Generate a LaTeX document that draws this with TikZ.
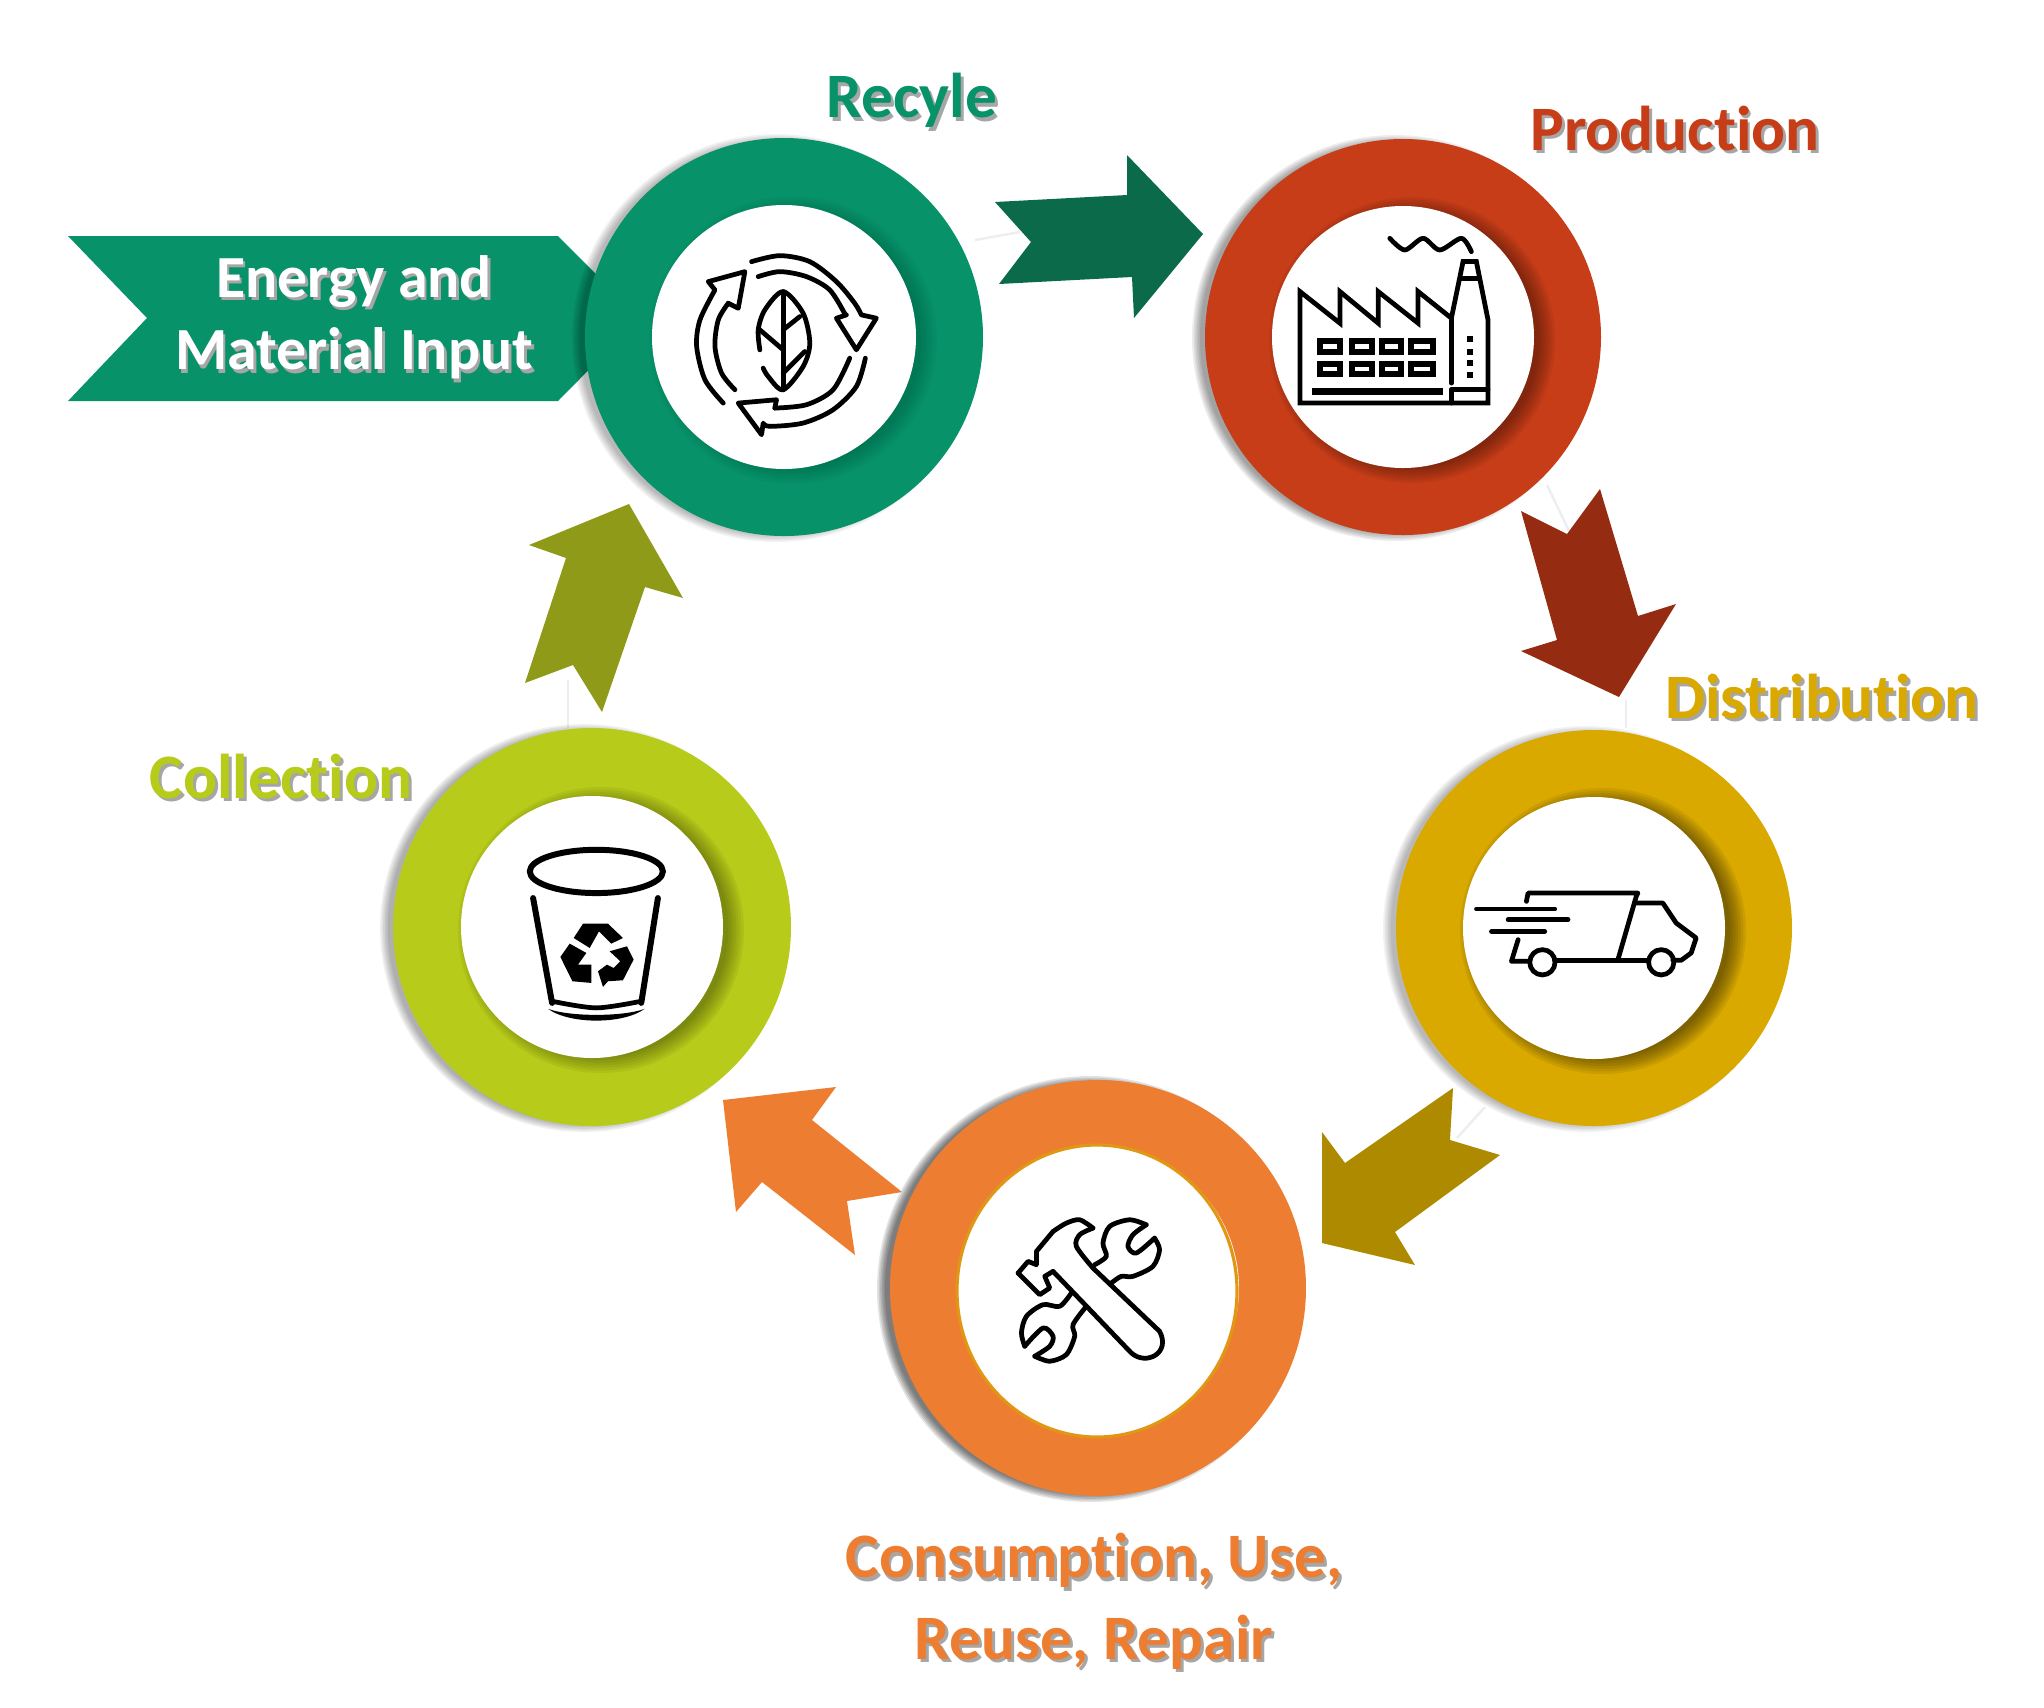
\documentclass[tikz,border=0pt]{standalone}
\usepackage{fontspec}
\setmainfont[Ligatures=NoCommon]{Carlito}
\definecolor{cgreen}{HTML}{07926A}
\definecolor{cgreend}{HTML}{0B6A4A}
\definecolor{cred}{HTML}{C63D18}
\definecolor{credd}{HTML}{952C12}
\definecolor{cyel}{HTML}{D9A900}
\definecolor{cyeld}{HTML}{AE8A00}
\definecolor{corg}{HTML}{ED7D31}
\definecolor{clime}{HTML}{B7CB1A}
\definecolor{colive}{HTML}{8F9B18}
\definecolor{cfaint}{HTML}{ECEEF2}
\newcommand{\shtext}[2]{\makebox[0pt][l]{\hspace{.8pt}\raisebox{-1pt}{\textcolor{black!35}{#2}}}\textcolor{#1}{#2}}
% name, x, y, outer radius, inner radius, colour, inner-shadow strength, outer-shadow strength
\newcommand{\myring}[8]{%
  \foreach \k in {0,...,5}{\fill[black,opacity=#8] (#2-8,#3+1) circle[radius=#4+5-1.6*\k];}
  \node[ringdisc,fill=#6,minimum size={2*#4*0.01cm}] (#1) at (#2,#3) {};
  \foreach \k in {0,...,6}{\fill[black,opacity=#7] (#2+9,#3+3) circle[radius=#5+12-2.6*\k];}
  \node[ringdisc,fill=white,minimum size={2*#5*0.01cm}] (#1-in) at (#2,#3) {};
}
\tikzset{
  ringdisc/.style={circle,draw=none,inner sep=0pt,outer sep=0pt},
  ico/.style={draw=black,line width=1.35pt,line join=round,line cap=round,fill=none},
  icob/.style={draw=black,line width=1.7pt,line join=miter},
  faintline/.style={draw=cfaint,line width=.7pt},
  lab/.style={font=\bfseries\fontsize{18}{23.3}\selectfont,align=center,inner sep=0pt},
  lab2/.style={font=\bfseries\fontsize{17}{20.7}\selectfont,align=center,inner sep=0pt}
}
\begin{document}
\begin{tikzpicture}[x=0.01cm,y=-0.01cm]
\useasboundingbox (0,0) rectangle (2044,1708);
\fill[white] (0,0) rectangle (2044,1708);
% faint traces of the guide circle
\draw[faintline] (975,240) -- (1020,232);
\draw[faintline] (1547,485) -- (1569,531);
\draw[faintline] (1626,700) -- (1626,728);
\draw[faintline] (1485,1107) -- (1457,1138);
\draw[faintline] (568,680) -- (568,728);
% banner
\fill[cgreen] (68,236) -- (558,236) -- (640,318) -- (558,401) -- (68,401) -- (147,318) -- cycle;
% rings
\myring{recycle}{784}{337}{199}{132}{cgreen}{.025}{.05}
\myring{production}{1403}{337}{198}{131}{cred}{.055}{.07}
\myring{distribution}{1594}{928}{198}{131}{cyel}{.07}{.05}
\myring{consumption}{1098}{1288}{208}{141}{corg}{0}{.11}
\myring{collection}{592}{927}{199}{131}{clime}{.05}{.06}
\draw[fill=white,draw=cyel!60!corg,line width=.9pt] (1097,1291) ellipse[x radius=140,y radius=146];
% block arrows
\fill[cgreend] (995,202) -- (1127,195) -- (1127,155) -- (1203,234) -- (1134,318) -- (1132,277) -- (999,284) -- (1031,242) -- cycle;
\fill[credd] (1521,511) -- (1567,534) -- (1600,489) -- (1638,616) -- (1676,604) -- (1619,697) -- (1521,651) -- (1557,640) -- cycle;
\fill[cyeld] (1453,1088) -- (1450,1140) -- (1500,1155) -- (1395,1232) -- (1415,1265) -- (1322,1243) -- (1322,1132) -- (1345,1163) -- cycle;
\fill[corg] (723,1100) -- (836,1087) -- (812,1120) -- (902,1192) -- (847,1201) -- (855,1255) -- (762,1182) -- (736,1212) -- cycle;
\fill[colive] (629,504) -- (683,598) -- (645,587) -- (602,712) -- (573,665) -- (525,683) -- (566,558) -- (529,545) -- cycle;
% recycle icon
\begin{scope}[shift={(680,240)},x=0.003333cm,y=-0.003333cm]
\draw[ico] plot[smooth] coordinates {(215,65) (300,47) (390,65) (470,125) (525,190) (545,225)} -- (590,235) -- (530,330) -- (470,235) -- (500,225);
\draw[ico] plot[smooth] coordinates {(497,225) (450,150) (380,110) (300,95) (235,110)};
\draw[ico] plot[smooth] coordinates {(130,490) (75,420) (50,320) (60,240) (105,150)} -- (85,125) -- (195,95) -- (175,205) -- (145,190);
\draw[ico] plot[smooth] coordinates {(145,190) (115,240) (105,320) (125,400) (165,450)};
\draw[ico] plot[smooth] coordinates {(557,355) (530,440) (460,510) (370,550) (270,560) (250,550)} -- (245,585) -- (175,490) -- (290,480) -- (285,505);
\draw[ico] plot[smooth] coordinates {(285,505) (380,495) (460,450) (510,355)};
\draw[ico] plot[smooth] coordinates {(240,330) (235,270) (255,210) (310,155) (370,220) (390,310) (370,380) (310,450) (265,410) (250,385)};
\draw[ico] (310,155) -- (310,450);
\draw[ico] (240,270) -- (310,330);
\draw[ico] (310,270) -- (360,230);
\draw[ico] (310,400) -- (375,335);
\end{scope}
% factory icon
\begin{scope}[shift={(1280,220)},x=0.003333cm,y=-0.003333cm]
\draw[ico,line join=miter] (60,215) -- (60,550) -- (625,550) -- (625,300) -- (590,125) -- (550,125) -- (515,295) -- (415,215) -- (415,310) -- (295,215) -- (295,310) -- (180,215) -- (180,310) -- cycle;
\draw[ico] (515,295) -- (515,490);
\draw[ico] (545,175) -- (595,175);
\draw[ico] plot[smooth] coordinates {(330,55) (375,90) (430,55) (480,90) (545,55) (575,95)};
\foreach \wx/\wy/\ww in {120/365/60,215/365/60,305/365/60,395/365/65,120/432/60,215/432/60,305/432/60,395/432/65}
  \draw[icob] (\wx,\wy) rectangle ++(\ww,32);
\draw[icob,line width=2.2pt] (95,515) -- (490,515);
\draw[ico] (515,510) -- (625,510);
\draw[ico] (515,510) -- (515,550);
\foreach \dy in {358,396,430,465}
  \fill[black] (563,\dy-9) rectangle (581,\dy+9);
\end{scope}
% truck icon
\begin{scope}[shift={(1380,720)},x=0.003333cm,y=-0.003333cm]
\draw[ico] (440,545) -- (445,520) -- (775,520) -- (770,530) -- (715,720);
\draw[ico] (770,550) -- (850,550) -- (890,610) -- (950,655) -- (935,700) -- (905,722) -- (880,722);
\draw[ico] (805,722) -- (525,722);
\draw[ico] (450,725) -- (395,725) -- (415,660);
\draw[ico] (488,728) circle[radius=38];
\draw[ico] (845,728) circle[radius=38];
\draw[ico] (290,568) -- (525,568);
\draw[ico] (385,600) -- (565,600);
\draw[ico] (335,635) -- (495,635);
\end{scope}
% tools icon
\begin{scope}[shift={(880,1080)},x=0.003333cm,y=-0.003333cm]
\draw[ico] plot[smooth] coordinates {(520,455) (560,430) (600,420) (640,445)};
\draw[ico] (415,580) -- (445,545) -- (470,555) -- (470,515) -- (520,455);
\draw[ico] plot[smooth] coordinates {(640,445) (600,465) (590,500) (640,565)};
\draw[ico] (415,580) -- (480,645) -- (510,625) -- (495,590) -- (520,575);
\draw[ico] (520,575) -- (755,820) .. controls (800,860) and (875,820) .. (840,755) -- (640,565);
\draw[ico] plot[smooth] coordinates {(645,555) (680,530) (670,490) (690,440) (750,420) (800,435)};
\draw[ico] plot[smooth] coordinates {(800,435) (760,465) (745,500) (770,520) (825,475)};
\draw[ico] plot[smooth] coordinates {(825,475) (840,510) (820,560) (760,590) (725,590) (695,610)};
\draw[ico] plot[smooth] coordinates {(575,640) (540,680) (490,675) (440,710) (425,760) (435,800)};
\draw[ico] plot[smooth] coordinates {(435,800) (490,745) (520,770) (510,800) (465,830)};
\draw[ico] plot[smooth] coordinates {(465,830) (510,845) (560,825) (585,770) (580,735) (620,680)};
\end{scope}
% bin icon
\begin{scope}[shift={(390,720)},x=0.003333cm,y=-0.003333cm]
\draw[ico,line width=1.7pt] (620,455) ellipse[x radius=200,y radius=65];
\draw[ico,line width=1.7pt] (430,535) -- (487,850);
\draw[ico,line width=1.7pt] (805,535) -- (755,850);
\draw[ico] plot[smooth] coordinates {(487,845) (620,865) (755,845)};
\fill[black] (475,868) .. controls (540,915) and (700,915) .. (765,868) .. controls (700,892) and (540,892) .. (475,868) -- cycle;
\fill[black] (552,655) -- (580,612) -- (655,612) -- (700,655) -- (665,672) -- (628,635) -- (600,685) -- cycle;
\fill[black] (512,712) -- (540,672) -- (590,700) -- (565,735) -- (605,735) -- (605,790) -- (548,785) -- cycle;
\fill[black] (660,695) -- (712,680) -- (732,720) -- (700,782) -- (655,785) -- (640,802) -- (625,755) -- (652,735) -- (672,745) -- (692,725) -- cycle;
\end{scope}
% labels
\node[lab] (lrecycle) at (912,102) {\shtext{cgreen}{Recyle}};
\node[lab] (lproduction) at (1675,130) {\shtext{cred}{Production}};
\node[lab] (ldistribution) at (1822,698) {\shtext{cyel}{Distribution}};
\node[lab] (lcollection) at (281,778) {\shtext{clime}{Collection}};
\node[lab] (lconsumption) at (1094,1603) {\shtext{corg}{Consumption, Use,}\\\shtext{corg}{Reuse, Repair}};
\node[lab2] (lenergy) at (354,319) {\shtext{white}{Energy and}\\\shtext{white}{Material Input}};
\end{tikzpicture}
\end{document}
